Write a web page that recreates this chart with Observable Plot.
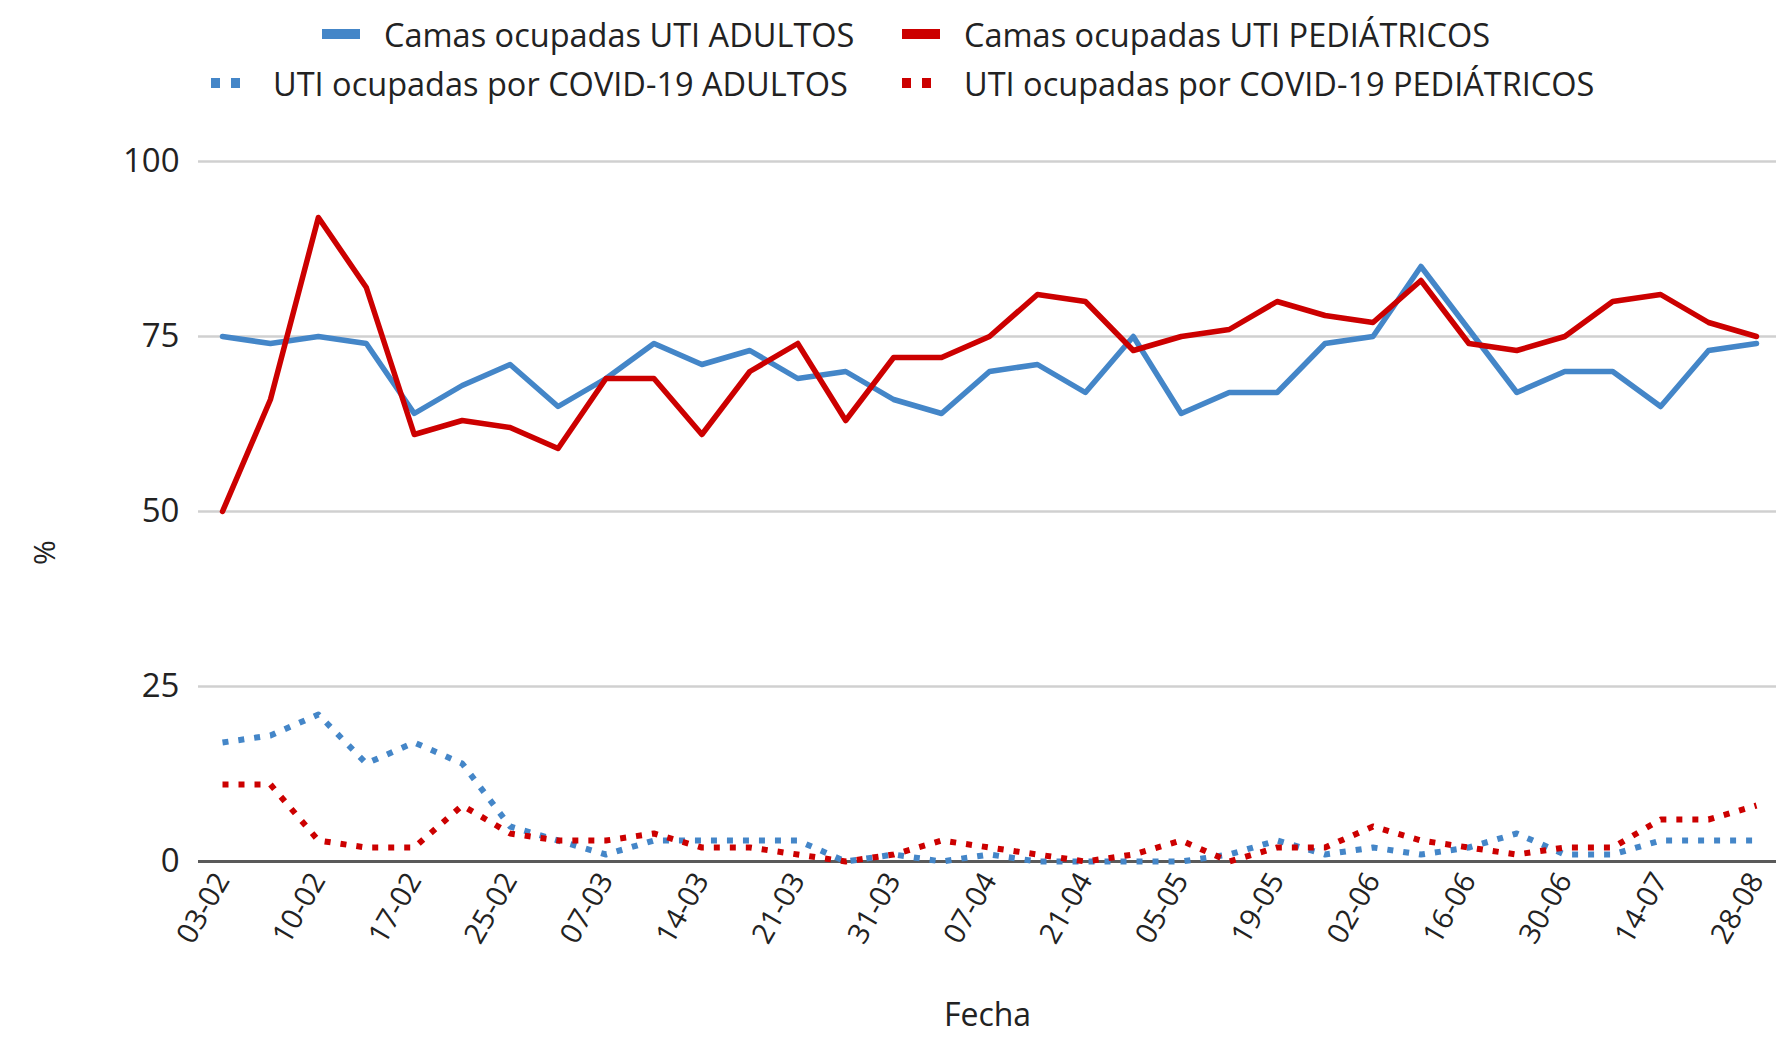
<!DOCTYPE html>
<html>
<head>
<meta charset="utf-8">
<script src="https://cdn.jsdelivr.net/npm/d3@7"></script>
<script src="https://cdn.jsdelivr.net/npm/@observablehq/plot@0.6"></script>
<style>
  html, body { margin: 0; padding: 0; background: #fff; }
  body { width: 1776px; height: 1048px; overflow: hidden; font-family: "Open Sans", sans-serif; color: #222; }
  #legend { position: relative; height: 110px; width: 1776px; }
  .item { position: absolute; display: flex; align-items: center; font-size: 32.5px; white-space: nowrap; }
  .item svg { margin-right: 24px; }
</style>
</head>
<body>
<div id="legend"></div>
<div id="chart"></div>
<script>
// ---- data ----
const fechaLabels = ["03-02","10-02","17-02","25-02","07-03","14-03","21-03","31-03","07-04","21-04","05-05","19-05","02-06","16-06","30-06","14-07","28-08"];
const yTicks = [0, 25, 50, 75, 100];
const camasAdultos = [75,74,75,74,64,68,71,65,69,74,71,73,69,70,66,64,70,71,67,75,64,67,67,74,75,85,76,67,70,70,65,73,74];
const camasPediatricos = [50,66,92,82,61,63,62,59,69,69,61,70,74,63,72,72,75,81,80,73,75,76,80,78,77,83,74,73,75,80,81,77,75];
const covidAdultos = [17,18,21,14,17,14,5,3,1,3,3,3,3,0,1,0,1,0,0,0,0,1,3,1,2,1,2,4,1,1,3,3,3];
const covidPediatricos = [11,11,3,2,2,8,4,3,3,4,2,2,1,0,1,3,2,1,0,1,3,0,2,2,5,3,2,1,2,2,6,6,8];
const seriesNames = ["Camas ocupadas UTI ADULTOS","Camas ocupadas UTI PEDIÁTRICOS","UTI ocupadas por COVID-19 ADULTOS","UTI ocupadas por COVID-19 PEDIÁTRICOS"];
const xTitle = "Fecha";
const yTitle = "%";

const BLUE = "#4486C8", RED = "#CC0000";
const DOT = "6,10";

const toRows = (arr) => arr.map((v, i) => ({i, v}));
const xTickIdx = fechaLabels.map((_, k) => k * 2);

// ---- legend ----
const legendItems = [
  {name: seriesNames[0], color: BLUE, dash: null, left: 322, top: 34},
  {name: seriesNames[1], color: RED, dash: null, left: 902, top: 34},
  {name: seriesNames[2], color: BLUE, dash: "9,11", left: 211, top: 83},
  {name: seriesNames[3], color: RED, dash: "9,11", left: 902, top: 83}
];
const legend = document.getElementById("legend");
for (const it of legendItems) {
  const div = document.createElement("div");
  div.className = "item";
  div.style.left = it.left + "px";
  div.style.top = (it.top - 22) + "px";
  div.style.height = "44px";
  div.innerHTML = `<svg width="38" height="12"><line x1="0" x2="38" y1="6" y2="6" stroke="${it.color}" stroke-width="10" ${it.dash ? `stroke-dasharray="${it.dash}"` : ""}/></svg><span>${it.name}</span>`;
  legend.appendChild(div);
}

// ---- chart ----
const chart = Plot.plot({
  width: 1776,
  height: 938,
  marginLeft: 198,
  marginRight: 0,
  marginTop: 51,
  marginBottom: 187,
  x: {domain: [0, 32], insetLeft: 24, insetRight: 20},
  y: {domain: [0, 100]},
  style: {fontFamily: "Open Sans, sans-serif", fontSize: "28px", color: "#222", background: "#fff", overflow: "visible"},
  marks: [
    Plot.ruleY(yTicks.filter(d => d > 0), {stroke: "#d0d0d0", strokeWidth: 2.5}),
    Plot.ruleY([0], {stroke: "#5a5a5a", strokeWidth: 3}),
    Plot.axisY(yTicks, {tickSize: 0, tickPadding: 19, fontSize: 33, label: null}),
    Plot.axisX(xTickIdx, {tickSize: 0, tickPadding: 14, tickRotate: -60, fontSize: 29, tickFormat: i => fechaLabels[i / 2], label: null}),
    Plot.text([yTitle], {frameAnchor: "left", textAnchor: "middle", dx: -153, dy: 41, rotate: -90, fontSize: 30, fill: "#222"}),
    Plot.text([xTitle], {frameAnchor: "bottom", dy: 164, fontSize: 32, fill: "#222"}),
    Plot.line(toRows(covidAdultos), {x: "i", y: "v", stroke: BLUE, strokeWidth: 6, strokeDasharray: DOT, strokeLinecap: "butt"}),
    Plot.line(toRows(covidPediatricos), {x: "i", y: "v", stroke: RED, strokeWidth: 6, strokeDasharray: DOT, strokeLinecap: "butt"}),
    Plot.line(toRows(camasAdultos), {x: "i", y: "v", stroke: BLUE, strokeWidth: 5.5}),
    Plot.line(toRows(camasPediatricos), {x: "i", y: "v", stroke: RED, strokeWidth: 5.5})
  ]
});
document.getElementById("chart").appendChild(chart);
</script>
</body>
</html>
